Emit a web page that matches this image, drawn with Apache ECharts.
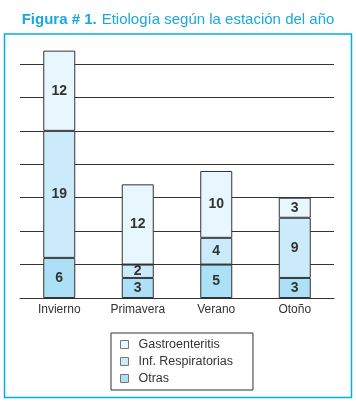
<!DOCTYPE html>
<html>
<head>
<meta charset="utf-8">
<script src="https://cdn.jsdelivr.net/npm/echarts@6/dist/echarts.min.js"></script>
<style>
  html, body { margin: 0; padding: 0; background: #fff; }
  #chart { width: 356px; height: 404px; }
</style>
</head>
<body>
<div id="chart"></div>
<script>
const categories = ['Invierno', 'Primavera', 'Verano', 'Otoño'];
const otras = [6, 3, 5, 3];
const respiratorias = [19, 2, 4, 9];
const gastro = [12, 12, 10, 3];

const FONT = 'Liberation Sans, Arial, sans-serif';
const BLUE = '#19a7e0';

let chart = echarts.init(document.getElementById('chart'));

/* Label style shared by all three series. */
let barLabel = {
    show: true,
    position: 'inside',
    color: '#333',
    fontFamily: FONT,
    fontSize: 14,
    fontWeight: 'bold'
};

let option = {
    animation: false,
    title: {
        text: '{b|Figura # 1.} {n|Etiología según la estación del año}',
        left: 'center',
        top: 6,
        textStyle: {
            rich: {
                b: { fontFamily: FONT, fontSize: 15, fontWeight: 'bold', color: BLUE },
                n: { fontFamily: FONT, fontSize: 15, fontWeight: 'normal', color: BLUE }
            }
        }
    },
    graphic: [
        {
            type: 'rect',
            shape: { x: 4.5, y: 34, width: 347, height: 363.5 },
            style: { fill: 'none', stroke: '#00aeef', lineWidth: 1.5 },
            z: -1
        }
    ],
    legend: {
        orient: 'vertical',
        left: 111,
        top: 333,
        data: ['Gastroenteritis', 'Inf. Respiratorias', 'Otras'],
        icon: 'rect',
        itemWidth: 8,
        itemHeight: 8,
        itemGap: 4,
        padding: [5, 20, 5, 9],
        borderColor: '#333',
        borderWidth: 1,
        borderRadius: 0,
        itemStyle: { borderColor: '#777', borderWidth: 1 },
        textStyle: { fontFamily: FONT, fontSize: 12.5, color: '#333', padding: [0, 0, 0, 5] }
    },
    grid: {
        left: 20,
        right: 22,
        top: 64,
        bottom: 106
    },
    xAxis: {
        type: 'category',
        data: categories,
        axisLine: { lineStyle: { color: '#333', width: 1 } },
        axisTick: { length: 5, lineStyle: { color: '#333' } },
        axisLabel: { color: '#333', fontFamily: FONT, fontSize: 12, margin: 6 }
    },
    yAxis: {
        type: 'value',
        min: 0,
        max: 35,
        interval: 5,
        axisLabel: { show: false },
        axisLine: { show: false },
        axisTick: { show: false },
        splitLine: { lineStyle: { color: '#333', width: 1 } }
    },
    series: [
        {
            name: 'Otras',
            type: 'bar',
            stack: 'total',
            barWidth: 32,
            clip: false,
            data: otras,
            label: barLabel,
            itemStyle: { color: '#ace0f7', borderColor: '#333', borderWidth: 1 }
        },
        {
            name: 'Inf. Respiratorias',
            type: 'bar',
            stack: 'total',
            barWidth: 32,
            clip: false,
            data: respiratorias,
            label: barLabel,
            itemStyle: { color: '#cbebfb', borderColor: '#333', borderWidth: 1 }
        },
        {
            name: 'Gastroenteritis',
            type: 'bar',
            stack: 'total',
            barWidth: 32,
            clip: false,
            data: gastro,
            label: barLabel,
            itemStyle: { color: '#e8f6fd', borderColor: '#333', borderWidth: 1 }
        }
    ]
};
chart.setOption(option);

window.addEventListener('resize', function () {
    chart.resize();
});
</script>
</body>
</html>
